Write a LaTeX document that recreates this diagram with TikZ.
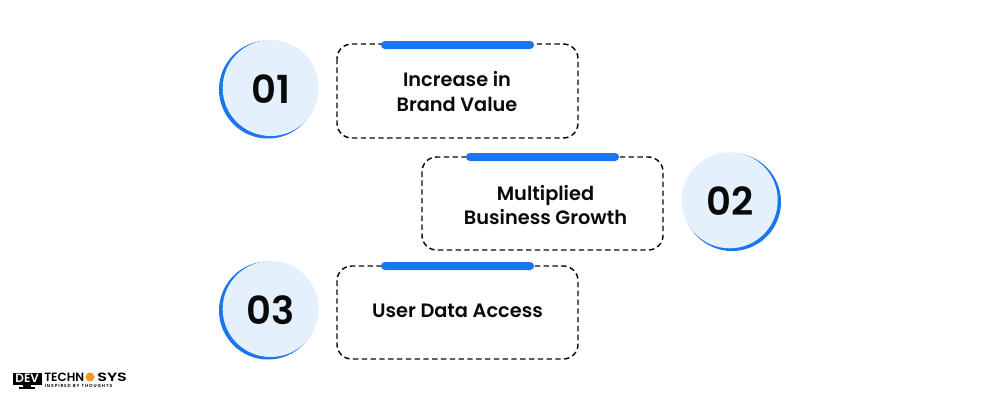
\documentclass[tikz,border=0pt]{standalone}
\usepackage{fontspec}
\usetikzlibrary{shapes.geometric}
\setmainfont{Poppins}[BoldFont={Poppins SemiBold}]
\newcommand{\labelfont}{\fontsize{14.5pt}{18.7pt}\selectfont\bfseries}
\newcommand{\numfont}{\fontsize{29pt}{30pt}\selectfont\bfseries}
\definecolor{bluebar}{HTML}{1B76EE}
\definecolor{lightc}{HTML}{E5F0FD}
\definecolor{inkc}{HTML}{0A0A0A}
\definecolor{orangec}{HTML}{F39A1E}
\tikzset{
  x=0.75pt,y=-0.75pt,
  dashbox/.style={draw=inkc,line width=1.1pt,dash pattern=on 4pt off 2.6pt,rounded corners=11pt},
  barline/.style={fill=bluebar,rounded corners=2.9pt},
  lightdisc/.style={fill=lightc},
  bluedisc/.style={fill=bluebar},
  numtext/.style={text=inkc,font=\numfont,anchor=center,inner sep=0},
  labeltext/.style={text=inkc,font=\labelfont,align=center,anchor=center,inner sep=0},
  logotext/.style={text=black,font=\fontsize{9pt}{10pt}\selectfont\bfseries,inner sep=0,anchor=west,text height=6.2pt,text depth=0pt},
}
\begin{document}
\begin{tikzpicture}
\useasboundingbox[fill=white] (0,0) rectangle (1000,400);
% row 1
\fill[bluedisc] (268,89.5) circle[radius=49];
\fill[lightdisc] (270.7,88) circle[radius=48];
\node[numtext] (n1) at (271,89) {01};
\draw[dashbox] (337,44) rectangle (578,138);
\fill[barline] (381,41) rectangle (534,49);
\node[labeltext] (t1) at (457,91.5) {Increase in\\Brand Value};
% row 2
\fill[bluedisc] (732,202) circle[radius=49];
\fill[lightdisc] (729.7,200.3) circle[radius=48];
\node[numtext] (n2) at (730,201) {02};
\draw[dashbox] (422,157) rectangle (663,250);
\fill[barline] (466,153) rectangle (619,161);
\node[labeltext] (t2) at (545.5,205) {Multiplied\\Business Growth};
% row 3
\fill[bluedisc] (268,310.5) circle[radius=49];
\fill[lightdisc] (270.7,309) circle[radius=48];
\node[numtext] (n3) at (271,310) {03};
\draw[dashbox] (337,266) rectangle (578,359);
\fill[barline] (381,262) rectangle (534,270);
\node[labeltext] (t3) at (457.5,311) {User Data Access};
% logo
\fill[black] (13,372.5) rectangle (41.5,384.5);
\fill[black] (23,384.5) rectangle (31,387);
\fill[black] (19,387) rectangle (35,388.5);
\node[text=white,font=\fontsize{9pt}{10pt}\selectfont\bfseries,inner sep=0] (ld) at (27.2,378.6) {DEV};
\node[logotext] (l1) at (44,377) {TECHN};
\node[regular polygon,regular polygon sides=6,fill=orangec,minimum size=7pt,inner sep=0] (lh) at (90,377) {};
\node[logotext,xscale=1.33] (l2) at (97,377) {SYS};
\node[text=black,font=\fontsize{3.3pt}{3.5pt}\selectfont\bfseries\addfontfeature{LetterSpace=22},inner sep=0,anchor=west,text height=2.4pt,text depth=0pt] (l3) at (44.5,386) {INSPIRED BY THOUGHTS};
\end{tikzpicture}
\end{document}
